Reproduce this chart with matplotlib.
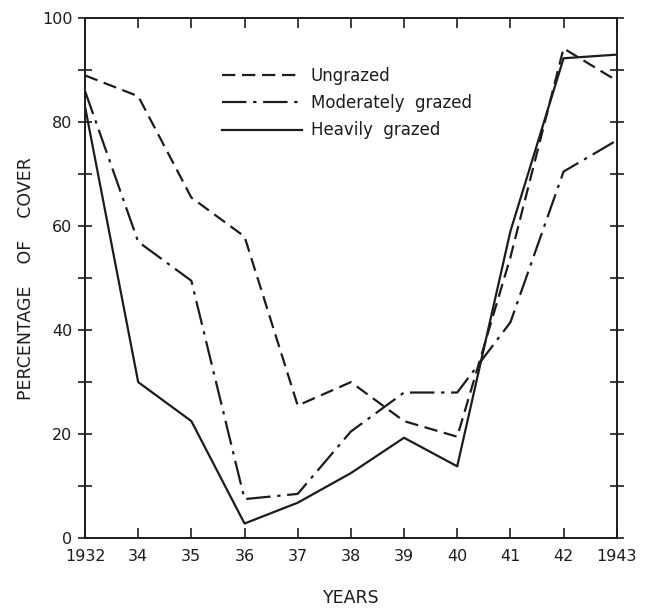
import numpy as np
import matplotlib.pyplot as plt

years = ['1932', '34', '35', '36', '37', '38', '39', '40', '41', '42', '1943']
ungrazed = [89, 85, 65.5, 58, 25.5, 30, 22.5, 19.5, 54, 94.2, 88]
moderate = [86, 57, 49.5, 7.5, 8.5, 20.5, 28, 28, 41.5, 70.5, 76.5]
heavy = [83, 30, 22.5, 2.8, 6.8, 12.5, 19.3, 13.8, 59, 92.3, 93]

ink = '#1c1c1c'
plt.rcParams['font.family'] = 'DejaVu Sans'

fig = plt.figure(figsize=(6.54, 6.08), dpi=100)
ax = fig.add_axes([0.13, 0.115, 0.813, 0.855])

x = np.arange(len(years))
ax.plot(x, ungrazed, color=ink, lw=1.6, dashes=(6, 3), label='Ungrazed')
ax.plot(x, moderate, color=ink, lw=1.6, dashes=(11, 3, 1.5, 3), label='Moderately  grazed')
ax.plot(x, heavy, color=ink, lw=1.6, label='Heavily  grazed')

ax.set_xlim(0, 10)
ax.set_ylim(0, 100)
ax.set_xticks(x)
ax.set_xticklabels(years)
ax.set_yticks([0, 20, 40, 60, 80, 100])
ax.set_yticks(np.arange(0, 101, 10), minor=True)
ax.tick_params(axis='both', which='both', direction='in', length=7, width=1.2,
               colors=ink, labelsize=11.5, top=True, right=True)
ax.tick_params(axis='y', which='both', direction='inout', length=10, pad=4)
ax.tick_params(axis='x', pad=8)
for s in ax.spines.values():
    s.set_linewidth(1.4)
    s.set_color(ink)

ax.set_ylabel('PERCENTAGE    OF    COVER', fontsize=12.5, color=ink, labelpad=5)
ax.set_xlabel('YEARS', fontsize=12.5, color=ink, labelpad=18)

leg = ax.legend(loc='upper left', bbox_to_anchor=(0.23, 0.935), frameon=False,
                fontsize=12, handlelength=4.8, labelspacing=0.55, handletextpad=0.5,
                labelcolor=ink)

fig.savefig('out.png', dpi=100, facecolor='white')
